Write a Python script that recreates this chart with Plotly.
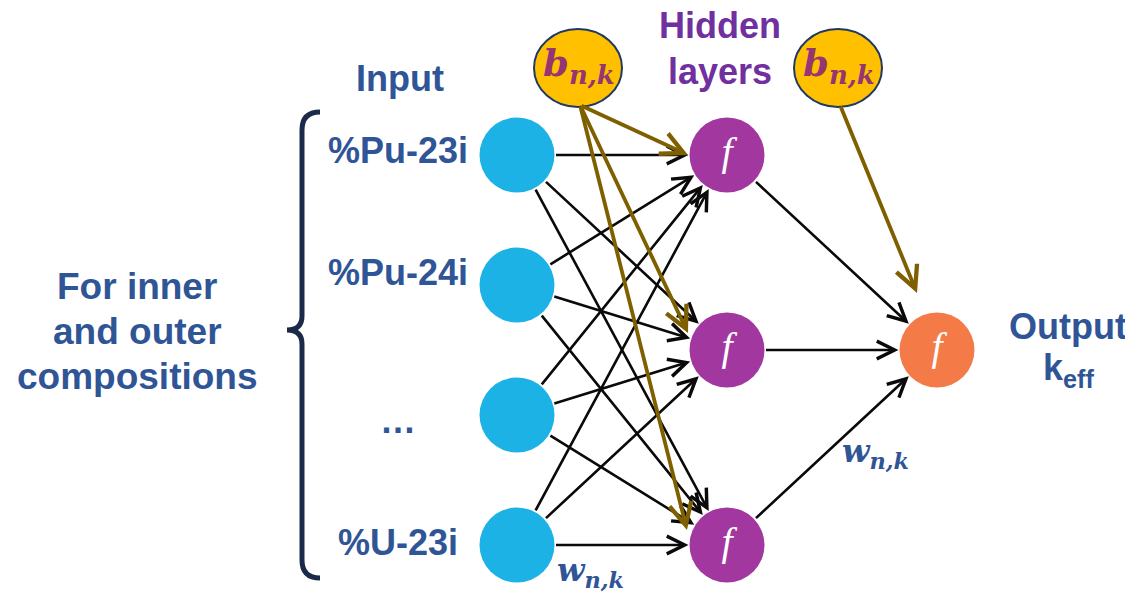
import math
import plotly.graph_objects as go

# ---------------- data ----------------
layer_names = ["input", "hidden", "output"]
layer_x = [517, 727, 937]
input_y = [155, 285, 415, 545]
hidden_y = [155, 350, 545]
output_y = [350]
node_colors = ["#1cb2e6", "#a2389f", "#f47a47"]
node_text = ["", "<i>f</i>", "<i>f</i>"]

input_labels = ["%Pu-23i", "%Pu-24i", "…", "%U-23i"]
input_label_y = [150, 272, 420, 542]

bias_x = [578, 838]
bias_y = [68, 68]
# bias -> targets: (layer index, node index, tip dx, tip dy relative to node centre)
bias_targets = [
    [(1, 0, -39, 0), (1, 1, -39, -17), (1, 2, -40, -15)],
    [(2, 0, -20, -57)],
]

BLUE = "#2f5597"
PURPLE = "#7030a0"
OLIVE = "#7f6000"
NAVY = "#1c2a4a"

W, H = 1133, 593
PAGE_OFFSET = 8  # default body margin of the html page
R = 37.5  # node radius in px
layers_y = [input_y, hidden_y, output_y]

fig = go.Figure()

# ---------------- edges (black arrows) ----------------
annotations = []


def arrow(x0, y0, x1, y1, color, width, size):
    return dict(x=x1, y=y1, ax=x0, ay=y0, xref="x", yref="y", axref="x", ayref="y",
                text="", showarrow=True, arrowhead=5, arrowsize=size,
                arrowwidth=width, arrowcolor=color, standoff=0, startstandoff=0)


for li in range(len(layers_y) - 1):
    for ya in layers_y[li]:
        for yb in layers_y[li + 1]:
            xa, xb = layer_x[li], layer_x[li + 1]
            d = math.hypot(xb - xa, yb - ya)
            ux, uy = (xb - xa) / d, (yb - ya) / d
            annotations.append(arrow(xa + ux * R, ya + uy * R,
                                     xb - ux * (R + 1), yb - uy * (R + 1),
                                     "#0a0a0a", 2.6, 1.35))

# ---------------- bias arrows ----------------
for bi, targets in enumerate(bias_targets):
    for (li, ni, dx, dy) in targets:
        tx = layer_x[li] + dx
        ty = layers_y[li][ni] + dy
        annotations.append(arrow(bias_x[bi] + 2, bias_y[bi] + 37, tx, ty, OLIVE, 3.8, 1.15))

# ---------------- nodes ----------------
for li, ys in enumerate(layers_y):
    fig.add_trace(go.Scatter(
        x=[layer_x[li]] * len(ys), y=ys, mode="markers+text",
        marker=dict(size=2 * R, color=node_colors[li], line=dict(width=0)),
        text=[node_text[li]] * len(ys), textposition="middle center",
        textfont=dict(family="Liberation Serif", size=40, color="white"),
        hoverinfo="skip", showlegend=False))

# ---------------- bias ellipses ----------------
shapes = []
for bx, by in zip(bias_x, bias_y):
    shapes.append(dict(type="circle", xref="x", yref="y", x0=bx - 44, x1=bx + 44,
                       y0=by - 39, y1=by + 39, fillcolor="#ffc000",
                       line=dict(color="#1f3864", width=2), layer="below"))
    annotations.append(dict(x=bx + 1, y=by - 3, xref="x", yref="y", showarrow=False,
                            text="<b><i>b</i></b><sub><b><i>n,k</i></b></sub>",
                            font=dict(family="DejaVu Serif", size=37, color="#953572")))

# ---------------- brace ----------------
bx_sp, bx_end, bx_tip = 302, 320, 287
b_top, b_mid, b_bot = 112, 330, 578
brace = (f"M {bx_end},{b_top} Q {bx_sp},{b_top} {bx_sp},{b_top + 18} "
         f"L {bx_sp},{b_mid - 14} Q {bx_sp},{b_mid} {bx_tip},{b_mid} "
         f"Q {bx_sp},{b_mid} {bx_sp},{b_mid + 14} "
         f"L {bx_sp},{b_bot - 18} Q {bx_sp},{b_bot} {bx_end},{b_bot}")
shapes.append(dict(type="path", xref="x", yref="y", path=brace,
                   line=dict(color=NAVY, width=5)))

# ---------------- text labels ----------------
def label(x, y, text, color=BLUE, size=36, family="Liberation Sans"):
    annotations.append(dict(x=x, y=y, xref="x", yref="y", showarrow=False, text=text,
                            xanchor="center", yanchor="middle",
                            font=dict(family=family, size=size, color=color)))


label(400, 78, "<b>Input</b>")
for t, y in zip(input_labels, input_label_y):
    label(398, y, f"<b>{t}</b>")
label(720, 25, "<b>Hidden</b>", PURPLE)
label(720, 71, "<b>layers</b>", PURPLE)
label(1068, 326, "<b>Output</b>")
label(1068, 370, "<b>k<sub>eff</sub></b>")
label(137, 286, "<b>For inner</b>", BLUE, 37)
label(137, 331, "<b>and outer</b>", BLUE, 37)
label(137, 376, "<b>compositions</b>", BLUE, 37)
label(590, 572, "<b><i>w</i></b><sub><b><i>n,k</i></b></sub>", BLUE, 32, "DejaVu Serif")
label(875, 453, "<b><i>w</i></b><sub><b><i>n,k</i></b></sub>", BLUE, 32, "DejaVu Serif")

fig.update_layout(
    width=W - PAGE_OFFSET, height=H - PAGE_OFFSET, autosize=False,
    margin=dict(l=0, r=0, t=0, b=0),
    paper_bgcolor="white", plot_bgcolor="white",
    xaxis=dict(range=[PAGE_OFFSET, W], visible=False, fixedrange=True),
    yaxis=dict(range=[H, PAGE_OFFSET], visible=False, fixedrange=True),
    shapes=shapes, annotations=annotations,
)

fig.write_html("out.html")
